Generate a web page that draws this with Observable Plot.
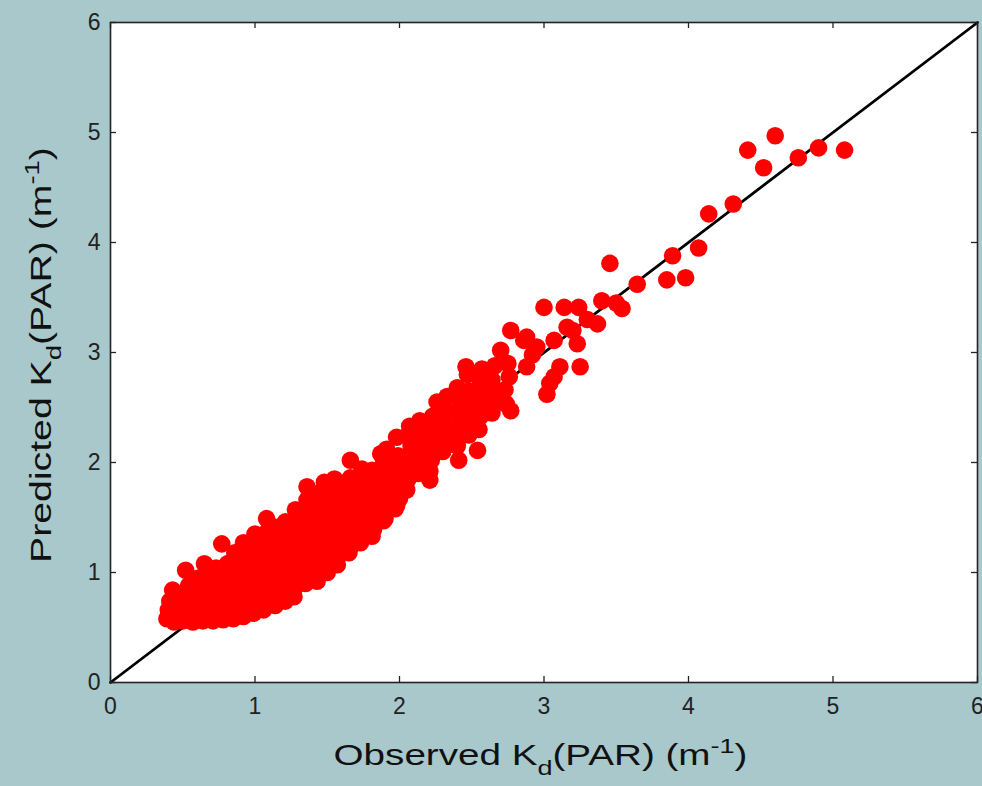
<!DOCTYPE html>
<html><head><meta charset="utf-8">
<script src="https://cdn.jsdelivr.net/npm/d3@7"></script>
<script src="https://cdn.jsdelivr.net/npm/@observablehq/plot@0.6"></script>
<style>
html,body{margin:0;padding:0;background:#a8c8cb;}
#chart{width:982px;height:786px;}
</style></head><body><div id="chart"></div>
<script>
// Observed Kd(PAR) values (x) — one line per column of the cloud
const observed = [
  0.39,0.40,0.41,
  0.44,0.46,0.45,0.43,0.47,
  0.50,0.52,0.53,0.51,0.54,0.52,
  0.57,0.58,0.59,0.60,0.58,0.61,
  0.64,0.65,0.66,0.64,0.67,0.65,0.66,
  0.71,0.72,0.73,0.70,0.74,0.72,0.73,
  0.77,0.78,0.79,0.77,0.80,0.78,0.79,0.81,
  0.85,0.86,0.84,0.87,0.85,0.86,0.84,0.86,
  0.92,0.93,0.91,0.94,0.92,0.93,0.91,0.95,0.92,
  0.99,1.00,1.01,0.99,1.02,1.00,1.01,0.99,1.00,
  1.06,1.07,1.08,1.06,1.09,1.07,1.08,1.06,1.08,1.09,
  1.14,1.15,1.13,1.16,1.14,1.15,1.13,1.16,1.14,
  1.21,1.22,1.20,1.23,1.21,1.22,1.20,1.23,1.21,
  1.27,1.28,1.29,1.27,1.30,1.28,1.29,1.27,1.30,1.28,
  1.35,1.36,1.37,1.35,1.38,1.36,1.37,1.35,1.38,1.36,1.36,
  1.43,1.44,1.42,1.45,1.43,1.44,1.42,1.45,1.43,1.44,
  1.50,1.51,1.49,1.52,1.50,1.51,1.49,1.52,1.50,1.55,1.48,
  1.57,1.58,1.59,1.57,1.60,1.58,1.59,1.57,1.60,
  1.65,1.66,1.67,1.65,1.68,1.66,1.67,1.65,1.66,1.66,
  1.73,1.74,1.75,1.73,1.76,1.74,1.75,1.73,1.74,
  1.81,1.82,1.83,1.81,1.84,1.82,1.83,1.81,1.87,
  1.89,1.90,1.91,1.89,1.92,1.90,1.91,1.89,1.91,
  1.97,1.98,2.00,1.99,1.97,1.98,1.99,1.98,
  2.05,2.06,2.07,2.05,2.08,2.06,2.07,
  2.13,2.15,2.14,2.16,2.15,2.14,2.21,2.21,
  2.22,2.23,2.24,2.22,2.23,2.26,
  2.30,2.31,2.32,2.30,2.31,2.33,
  2.41,2.40,2.39,2.41,2.40,2.42,2.40,
  2.48,2.49,2.47,2.50,2.48,2.47,2.46,
  2.54,2.55,2.56,2.57,2.55,2.56,2.57,
  2.64,2.65,2.66,2.64,2.66,2.70,
  2.72,2.74,2.73,2.76,2.75,2.77,2.77,2.86,
  2.88,2.88,2.92,3.00,3.07,3.07,3.04,3.02,2.95,
  3.14,3.16,3.23,3.24,3.25,3.11,3.20,3.30,
  3.37,3.40,3.54,3.645,3.456,3.50,
  3.85,3.98,3.89,4.07,4.14,4.31,
  4.41,4.52,4.60,4.76,4.90,5.08
];
// Predicted Kd(PAR) values (y), same order
const predicted = [
  0.58,0.66,0.74,
  0.55,0.63,0.71,0.84,0.78,
  0.56,0.64,0.72,0.80,0.88,1.02,
  0.55,0.62,0.70,0.79,0.87,0.95,
  0.56,0.64,0.72,0.81,0.90,1.08,0.99,
  0.56,0.63,0.71,0.79,0.88,0.96,1.04,
  1.26,0.57,0.66,0.74,0.83,0.91,1.00,1.08,
  0.58,0.67,0.75,0.84,0.93,1.02,1.10,1.18,
  0.60,0.69,0.78,0.87,0.96,1.05,1.14,1.20,1.27,
  0.63,0.72,0.81,0.90,0.99,1.08,1.17,1.26,1.35,
  0.66,0.75,0.84,0.93,1.02,1.11,1.20,1.30,1.49,1.38,
  0.70,0.79,0.88,0.97,1.06,1.15,1.24,1.33,1.41,
  0.74,0.83,0.92,1.01,1.10,1.19,1.28,1.37,1.46,
  0.78,0.87,0.96,1.05,1.14,1.23,1.32,1.41,1.50,1.57,
  0.90,0.94,1.03,1.12,1.21,1.30,1.39,1.48,1.57,1.66,1.78,
  0.92,1.01,1.10,1.19,1.28,1.37,1.46,1.55,1.64,1.72,
  1.00,1.09,1.18,1.27,1.36,1.45,1.54,1.63,1.72,1.85,1.82,
  1.07,1.16,1.25,1.34,1.43,1.52,1.61,1.70,1.79,
  1.18,1.23,1.32,1.41,1.50,1.59,1.68,1.77,1.86,2.02,
  1.27,1.31,1.40,1.49,1.58,1.67,1.76,1.85,1.94,
  1.33,1.39,1.48,1.57,1.66,1.75,1.84,1.93,2.08,
  1.47,1.49,1.58,1.67,1.76,1.85,1.94,2.02,2.12,
  1.58,1.61,1.67,1.78,1.88,1.97,2.06,2.23,
  1.75,1.85,1.95,2.05,2.15,2.25,2.33,
  1.90,2.00,2.10,2.20,2.30,2.38,1.84,1.92,
  2.02,2.12,2.22,2.32,2.42,2.55,
  2.10,2.20,2.30,2.40,2.50,2.60,
  2.02,2.15,2.27,2.37,2.47,2.57,2.68,
  2.25,2.35,2.45,2.55,2.65,2.80,2.87,
  2.11,2.30,2.42,2.52,2.62,2.72,2.85,
  2.45,2.55,2.65,2.75,2.88,3.02,
  2.56,2.53,2.66,2.78,2.90,3.20,2.47,3.11,
  3.14,2.87,2.98,3.41,3.11,2.78,2.72,2.62,3.05,
  3.41,3.23,3.08,3.41,2.87,2.87,3.20,3.30,
  3.26,3.47,3.40,3.62,3.81,3.45,
  3.66,3.68,3.88,3.95,4.26,4.35,
  4.84,4.68,4.97,4.77,4.86,4.84
];
const ticks = [0, 1, 2, 3, 4, 5, 6];
const diagonal = [0, 6];
const xTitle = ["Observed K", "d", "(PAR) (m", "-1", ")"];
const yTitle = ["Predicted K", "d", "(PAR) (m", "-1", ")"];

const n = Math.min(observed.length, predicted.length);
const points = d3.range(n).map(i => ({x: observed[i], y: predicted[i]}));
const line = diagonal.map(v => ({x: v, y: v}));
const font = '"Liberation Sans", Arial, Helvetica, sans-serif';

const W = 982, H = 786, mL = 110, mR = 5, mT = 22, mB = 104;
const fmt = d => String(d);

const plot = Plot.plot({
  width: W, height: H,
  marginLeft: mL, marginRight: mR, marginTop: mT, marginBottom: mB,
  style: {background: "#a8c8cb", fontFamily: font, color: "#222", overflow: "visible"},
  x: {domain: [0, 6], axis: null},
  y: {domain: [0, 6], axis: null},
  marks: [
    Plot.frame({fill: "white", stroke: null}),
    Plot.line(line, {x: "x", y: "y", stroke: "black", strokeWidth: 2.8}),
    Plot.dot(points, {x: "x", y: "y", r: 8.8, fill: "#ff0000", stroke: null}),
    // inward ticks on all four sides
    Plot.ruleX(ticks, {x: d => d, y1: () => 0, y2: () => 0, insetTop: -6, stroke: "#222", strokeWidth: 1.3}),
    Plot.ruleX(ticks, {x: d => d, y1: () => 6, y2: () => 6, insetBottom: -6, stroke: "#222", strokeWidth: 1.3}),
    Plot.ruleY(ticks, {y: d => d, x1: () => 0, x2: () => 0, insetRight: -6, stroke: "#222", strokeWidth: 1.3}),
    Plot.ruleY(ticks, {y: d => d, x1: () => 6, x2: () => 6, insetLeft: -6, stroke: "#222", strokeWidth: 1.3}),
    Plot.frame({stroke: "#222", strokeWidth: 1.6}),
    Plot.axisX({ticks, tickFormat: fmt, anchor: "bottom", tickSize: 0, tickPadding: 15, fontSize: 23, fill: "#222", label: null}),
    Plot.axisY({ticks, tickFormat: fmt, anchor: "left", tickSize: 0, tickPadding: 10, fontSize: 23, fill: "#222", label: null})
  ]
});
document.getElementById("chart").appendChild(plot);

const svg = d3.select(plot);
function buildTitle(parts) {
  const t = svg.append("text")
    .attr("font-family", font).attr("font-size", 30).attr("fill", "#111")
    .attr("text-anchor", "middle");
  t.append("tspan").text(parts[0]);
  t.append("tspan").attr("font-size", 21).attr("dy", 10).text(parts[1]);
  t.append("tspan").attr("dy", -10).text(parts[2]);
  t.append("tspan").attr("font-size", 21).attr("dy", -12).text(parts[3]);
  t.append("tspan").attr("dy", 12).text(parts[4]);
  return t;
}
const cx = (mL + W - mR) / 2;
const cy = (mT + H - mB) / 2;
const xt = buildTitle(xTitle);
const xw = xt.node().getComputedTextLength();
xt.attr("transform", `translate(${cx - 3},765) scale(${414 / xw},1)`);
const yt = buildTitle(yTitle);
const yw = yt.node().getComputedTextLength();
yt.attr("transform", `translate(51,${cy + 3}) rotate(-90) scale(${416 / yw},1)`);
</script>
</body></html>
